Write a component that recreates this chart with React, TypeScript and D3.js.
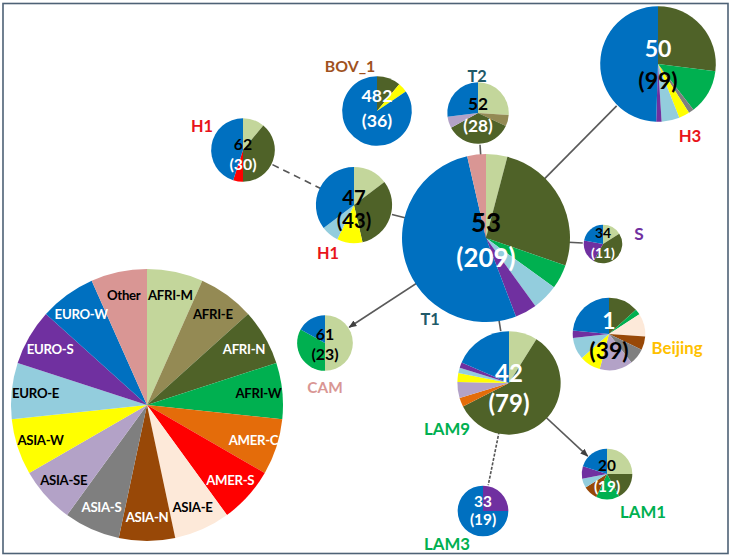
import React from "react";
import * as d3 from "d3";

// ---------- DATA ----------
const regions = ["AFRI-M","AFRI-E","AFRI-N","AFRI-W","AMER-C","AMER-S","ASIA-E","ASIA-N","ASIA-S","ASIA-SE","ASIA-W","EURO-E","EURO-S","EURO-W","Other"];

const nodeIds = ["T1","H3","T2","BOV_1","H1a","H1b","S","CAM","Beijing","LAM9","LAM1","LAM3"];
const nodeNames = ["T1","H3","T2","BOV_1","H1","H1","S","CAM","Beijing","LAM9","LAM1","LAM3"];
const nodeSIT = ["53","50","52","482","47","62","34","61","1","42","20","33"];
const nodeCounts = [209,99,28,36,43,30,11,23,39,79,19,19];

// regional composition (percent of isolates), legend order
const mixT1 = {"AFRI-M":4.1,"AFRI-N":26.2,"AFRI-W":4.7,"EURO-E":5,"EURO-S":4.2,"EURO-W":52.2,"Other":3.6};
const mixH3 = {"AFRI-N":27,"AFRI-W":12.5,"ASIA-S":1.5,"ASIA-W":3,"EURO-E":5,"EURO-S":1.5,"EURO-W":49.5};
const mixT2 = {"AFRI-M":26,"AFRI-E":6,"AFRI-N":35,"ASIA-SE":6,"EURO-W":27};
const mixBOV = {"AFRI-N":11,"ASIA-W":4.5,"EURO-W":84.5};
const mixH1a = {"AFRI-M":14.7,"AFRI-N":31.7,"ASIA-W":10.8,"EURO-E":7.5,"EURO-W":35.3};
const mixH1b = {"AFRI-M":11,"AFRI-N":39,"AMER-S":5,"EURO-W":45};
const mixS = {"AFRI-M":16,"AFRI-N":42,"EURO-S":20,"EURO-W":22};
const mixCAM = {"AFRI-M":50,"AFRI-W":33,"EURO-W":17};
const mixBeijing = {"AFRI-N":13.3,"AFRI-W":2.5,"ASIA-E":10.3,"ASIA-N":6.1,"ASIA-S":7.2,"ASIA-SE":14.7,"ASIA-W":9.4,"EURO-E":9.7,"EURO-S":3.3,"EURO-W":23.5};
const mixLAM9 = {"AFRI-M":8.9,"AFRI-N":58.6,"AMER-C":2.8,"ASIA-SE":5,"ASIA-W":2.8,"EURO-E":1.7,"EURO-S":1.7,"EURO-W":18.5};
const mixLAM1 = {"AFRI-M":25,"AFRI-N":17,"AFRI-W":15,"ASIA-N":9,"EURO-E":6,"EURO-S":8,"EURO-W":20};
const mixLAM3 = {"EURO-S":25,"EURO-W":75};

const nodeMixes = [mixT1,mixH3,mixT2,mixBOV,mixH1a,mixH1b,mixS,mixCAM,mixBeijing,mixLAM9,mixLAM1,mixLAM3];

const linkSource = ["T1","T1","T1","T1","T1","T1","H1a","LAM9","LAM9"];
const linkTarget = ["H3","T2","H1a","S","CAM","LAM9","H1b","LAM1","LAM3"];
const linkDashed = [false,false,false,false,false,false,true,false,true];
const linkArrow = [false,false,false,false,true,false,false,true,false];

// ---------- STYLE / LAYOUT ----------
const regionColors = ["#c3d69b","#948a54","#4f6228","#00b050","#e46c0a","#ff0000","#fde9d9","#984807","#7f7f7f","#b3a2c7","#ffff00","#93cddd","#7030a0","#0070c0","#d99694"];
const legendTextColors = ["#000","#000","#fff","#000","#fff","#fff","#000","#fff","#fff","#000","#000","#000","#fff","#fff","#000"];

const FONT = "Lato, 'Open Sans', sans-serif";
const K = 0.96; // Calibri -> Lato size factor

const layout: Record<string, any> = {
  T1: { cx: 486, cy: 238, ny: -16, cy2: 19, fs: 27, nc: "#000", cc: "#fff", lx: 430, ly: 318, ls: 17, lc: "#215968" },
  H3: { cx: 658, cy: 64, ny: -16, cy2: 16, fs: 24, nc: "#fff", cc: "#000", lx: 690, ly: 135, ls: 17.5, lc: "#e8141b" },
  T2: { cx: 478, cy: 113, ny: -10, cy2: 12, fs: 18, nc: "#000", cc: "#fff", lx: 477, ly: 75, ls: 17, lc: "#215968" },
  BOV_1: { cx: 377, cy: 111, ny: -16, cy2: 9, fs: 18.5, nc: "#fff", cc: "#fff", lx: 350, ly: 65, ls: 16.5, lc: "#a0521e" },
  H1a: { cx: 354, cy: 205, ny: -8, cy2: 15, fs: 21, nc: "#000", cc: "#000", lx: 328, ly: 252, ls: 17, lc: "#e8141b" },
  H1b: { cx: 243, cy: 150, ny: -7, cy2: 13, fs: 16.5, nc: "#000", cc: "#fff", lx: 202, ly: 125, ls: 17, lc: "#e8141b" },
  S: { cx: 603, cy: 244, ny: -12, cy2: 8, fs: 14.5, nc: "#000", cc: "#fff", lx: 639, ly: 233, ls: 18, lc: "#7030a0" },
  CAM: { cx: 325, cy: 343, ny: -10, cy2: 10, fs: 16.5, nc: "#000", cc: "#000", lx: 325, ly: 387, ls: 16, lc: "#d99694" },
  Beijing: { cx: 609, cy: 334, ny: -14, cy2: 16, fs: 24, nc: "#fff", cc: "#000", lx: 677, ly: 347, ls: 17.5, lc: "#ffc000" },
  LAM9: { cx: 509, cy: 383, ny: -11, cy2: 19, fs: 25, nc: "#fff", cc: "#fff", lx: 447, ly: 428, ls: 17.5, lc: "#00b050" },
  LAM1: { cx: 607, cy: 474, ny: -9, cy2: 12, fs: 16, nc: "#000", cc: "#fff", lx: 643, ly: 511, ls: 17.5, lc: "#00b050" },
  LAM3: { cx: 483, cy: 511, ny: -10, cy2: 8, fs: 16, nc: "#fff", cc: "#fff", lx: 447, ly: 543, ls: 17.5, lc: "#00b050" },
};

const legendCenter = { x: 147, y: 405, r: 136, lr: 112 };

export default function App() {
  const color = d3.scaleOrdinal<string, string>().domain(regions).range(regionColors);
  const rScale = d3.scaleSqrt().domain([0, 209]).range([0, 84]);
  const pie = d3.pie<{ key: string; value: number }>().sort(null).value((d) => d.value);
  const arc = d3.arc<any>();

  const nodes = nodeIds.map((id, i) => {
    const mix: Record<string, number> = nodeMixes[i] as any;
    const items = regions.filter((r) => mix[r] != null).map((r) => ({ key: r, value: mix[r] }));
    return { id, name: nodeNames[i], sit: nodeSIT[i], count: nodeCounts[i], r: rScale(nodeCounts[i]), items, L: layout[id] };
  });
  const byId: Record<string, any> = {};
  nodes.forEach((n) => (byId[n.id] = n));

  const legendArcs = pie(regions.map((r) => ({ key: r, value: 1 })));

  return (
    <svg width={733} height={557} style={{ position: "absolute", left: 0, top: 0, background: "#fff" }} fontFamily={FONT} fontWeight="bold">
      <defs>
        <marker id="arr" viewBox="0 0 10 10" refX="9" refY="5" markerWidth="5" markerHeight="5" orient="auto">
          <path d="M0,1 L10,5 L0,9 z" fill="#404040" />
        </marker>
      </defs>
      <rect x={0} y={0} width={733} height={557} fill="#fff" />
      <rect x={3} y={3.5} width={725} height={550} fill="none" stroke="#4e6276" strokeWidth={1.6} />

      {/* links */}
      {linkSource.map((s, i) => {
        const a = byId[s], b = byId[linkTarget[i]];
        const x1 = a.L.cx, y1 = a.L.cy, x2 = b.L.cx, y2 = b.L.cy;
        const d = Math.hypot(x2 - x1, y2 - y1);
        const ex = x2 - ((x2 - x1) / d) * (b.r + 1);
        const ey = y2 - ((y2 - y1) / d) * (b.r + 1);
        return (
          <line key={i} x1={x1} y1={y1} x2={ex} y2={ey} stroke={linkDashed[i] ? "#555" : "#5a5a5a"} strokeWidth={1.6}
            strokeDasharray={linkDashed[i] ? (s === "H1a" ? "7,5" : "3,1.5") : undefined}
            markerEnd={linkArrow[i] ? "url(#arr)" : undefined} />
        );
      })}

      {/* node pies */}
      {nodes.map((n) => (
        <g key={n.id} transform={`translate(${n.L.cx},${n.L.cy})`}>
          {pie(n.items).map((p, j) => (
            <path key={j} d={arc({ ...p, innerRadius: 0, outerRadius: n.r })!} fill={color(p.data.key)} />
          ))}
          <text y={n.L.ny} textAnchor="middle" dominantBaseline="central" fontSize={n.L.fs * K} fill={n.L.nc}>{n.sit}</text>
          <text y={n.L.cy2} textAnchor="middle" dominantBaseline="central" fontSize={n.L.fs * K} fill={n.L.cc}>({n.count})</text>
        </g>
      ))}
      {nodes.map((n) => (
        <text key={"l" + n.id} x={n.L.lx} y={n.L.ly} textAnchor="middle" dominantBaseline="central" fontSize={n.L.ls * K} fill={n.L.lc}>{n.name}</text>
      ))}

      {/* legend pie */}
      <g transform={`translate(${legendCenter.x},${legendCenter.y})`}>
        {legendArcs.map((p, i) => (
          <path key={i} d={arc({ ...p, innerRadius: 0, outerRadius: legendCenter.r })!} fill={color(p.data.key)} />
        ))}
        {legendArcs.map((p, i) => {
          const a = (p.startAngle + p.endAngle) / 2;
          return (
            <text key={"t" + i} x={Math.sin(a) * legendCenter.lr} y={-Math.cos(a) * legendCenter.lr} textAnchor="middle" dominantBaseline="central"
              fontSize={13.2} letterSpacing={-0.3} fill={legendTextColors[i]}>{p.data.key}</text>
          );
        })}
      </g>
    </svg>
  );
}
